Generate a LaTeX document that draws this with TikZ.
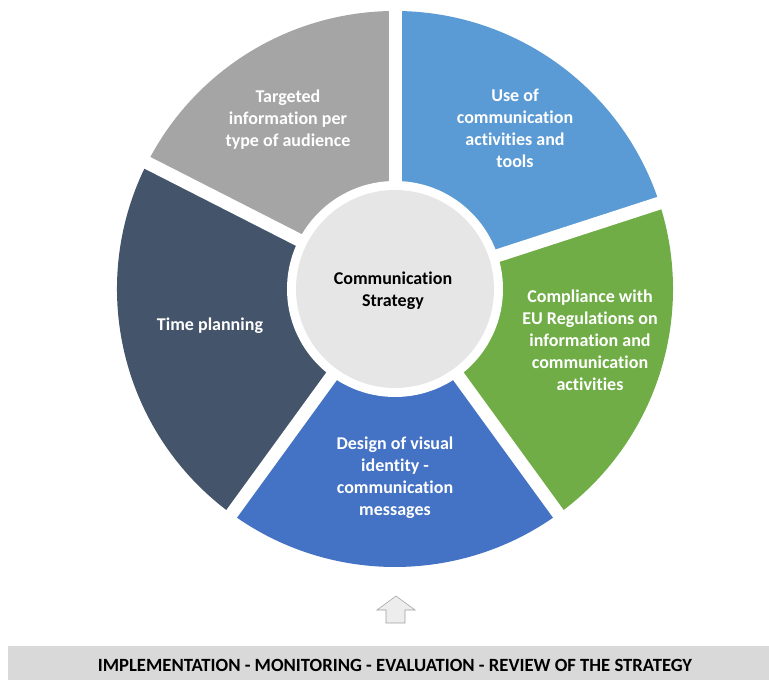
\documentclass[tikz,border=0pt]{standalone}
\usepackage{fontspec}
\setmainfont{Carlito}[Ligatures=NoCommon]
\definecolor{segGray}{HTML}{A5A5A5}
\definecolor{segSky}{HTML}{5B9BD5}
\definecolor{segGreen}{HTML}{70AD47}
\definecolor{segBlue}{HTML}{4472C4}
\definecolor{segNavy}{HTML}{44546A}
\definecolor{hubGray}{HTML}{E7E6E6}
\definecolor{barGray}{HTML}{D9D9D9}
\definecolor{arrowFill}{HTML}{EDEDED}
\definecolor{arrowLine}{HTML}{A0A0A0}
\begin{document}
\begin{tikzpicture}[x=0.75pt,y=0.75pt,
  seglabel/.style={text=white,font=\bfseries\fontsize{13.5}{16.5}\selectfont,align=center},
  hublabel/.style={text=black,font=\bfseries\fontsize{13.5}{16.5}\selectfont,align=center}]
\useasboundingbox (0,0) rectangle (769,680);
\coordinate (C) at (395,391);

% Segments
\foreach \a/\b/\col in {18/90/segSky,-54/18/segGreen,-126/-54/segBlue,153/234/segNavy,90/153/segGray} {
  \fill[\col] (C) -- ++(\a:278) arc[start angle=\a,end angle=\b,radius=278] -- cycle;
}

% Gaps between segments
\foreach \g in {90,18,-54,-126,153} {
  \draw[white,line width=9.75pt] (C) -- ++(\g:285);
}

% Hub
\fill[white] (C) circle[radius=108];
\fill[hubGray] (C) circle[radius=99];
\node[hublabel] (hub) at (393,389) {Communication\\Strategy};

% Segment labels
\node[seglabel] (target) at (288,560) {Targeted\\information per\\type of audience};
\node[seglabel] (tools) at (515,552) {Use of\\communication\\activities and\\tools};
\node[seglabel] (comply) at (590,340) {Compliance with\\EU Regulations on\\information and\\communication\\activities};
\node[seglabel] (design) at (395,202) {Design of visual\\identity -\\communication\\messages};
\node[seglabel] (time) at (210,354) {Time planning};

% Up arrow
\draw[arrowLine,fill=arrowFill] (396,84) -- (415,70) -- (405,70) -- (405,57)
  -- (386,57) -- (386,70) -- (377,70) -- cycle;

% Bottom banner
\fill[barGray] (8,0) rectangle (769,34);
\node[text=black,font=\bfseries\fontsize{14}{16}\selectfont] (review) at (395,15)
  {IMPLEMENTATION - MONITORING - EVALUATION - REVIEW OF THE STRATEGY};
\end{tikzpicture}
\end{document}
